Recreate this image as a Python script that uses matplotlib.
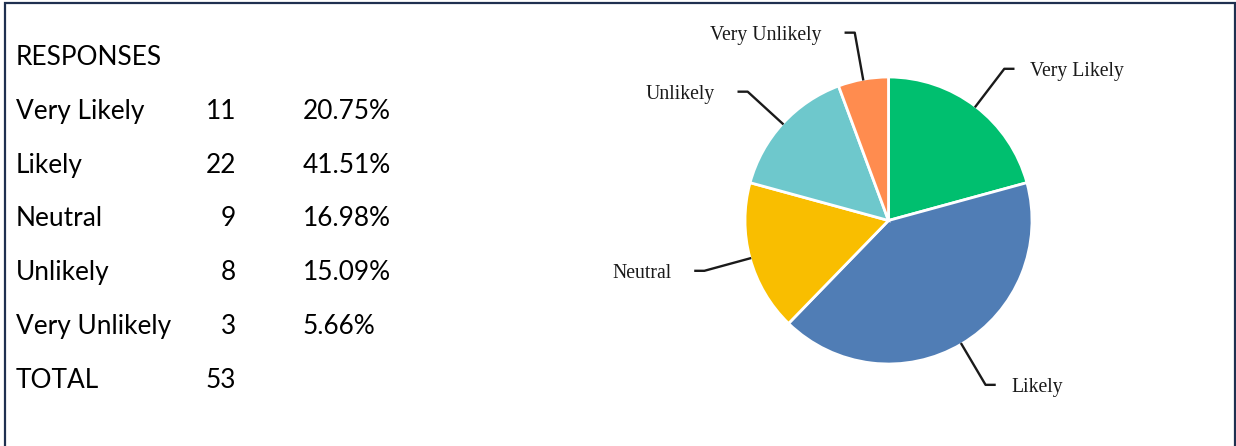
import matplotlib
matplotlib.use('Agg')
import matplotlib.pyplot as plt
import numpy as np

# survey responses
categories = ["Very Likely", "Likely", "Neutral", "Unlikely", "Very Unlikely"]
counts = [11, 22, 9, 8, 3]
percents = ["20.75%", "41.51%", "16.98%", "15.09%", "5.66%"]
total = 53
colors = ['#00BF6F', '#507DB5', '#F9BE00', '#6EC8CC', '#FF8C4F']

W, H = 1236, 446
fig = plt.figure(figsize=(W / 100, H / 100), dpi=100)

# overlay axes in pixel coordinates for the table and the frame
bg = fig.add_axes([0, 0, 1, 1])
bg.set_xlim(0, W)
bg.set_ylim(H, 0)
bg.axis('off')

border = '#1F3050'
bg.plot([4.5, 4.5, 1234.5, 1234.5], [H + 5, 2.5, 2.5, H + 5], color=border, lw=1.6,
        solid_joinstyle='miter', clip_on=False)

table_font = dict(family='Lato', fontsize=18.9, color='black', va='baseline')
row_y0, row_step = 65, 53.8
bg.text(16, row_y0, "RESPONSES", **table_font)
for i, (cat, n, pct) in enumerate(zip(categories, counts, percents)):
    y = row_y0 + (i + 1) * row_step
    bg.text(16, y, cat, ha='left', **table_font)
    bg.text(236, y, str(n), ha='right', **table_font)
    bg.text(303, y, pct, ha='left', **table_font)
y = row_y0 + (len(categories) + 1) * row_step
bg.text(16, y, "TOTAL", ha='left', **table_font)
bg.text(236, y, str(total), ha='right', **table_font)

# pie chart, axes sized so one data unit equals the radius
cx, cy, r = 888.5, 220.5, 143.5
ax = fig.add_axes([(cx - r) / W, 1 - (cy + r) / H, 2 * r / W, 2 * r / H])
wedges, _ = ax.pie(counts, colors=colors, startangle=90, counterclock=False,
                   wedgeprops=dict(edgecolor='white', linewidth=2))
ax.set_xlim(-1, 1)
ax.set_ylim(-1, 1)
ax.set_aspect('auto')
ax.axis('off')

hseg = 9 / r
for w, cat in zip(wedges, categories):
    ang = np.deg2rad((w.theta1 + w.theta2) / 2)
    x0, y0 = np.cos(ang), np.sin(ang)
    x1, y1 = 1.33 * x0, 1.33 * y0
    side = 1 if x0 > 0 else -1
    x2 = x1 + side * hseg
    ax.plot([x0, x1, x2], [y0, y1, y1], color='#1a1a1a', lw=1.7, clip_on=False)
    gap = 17 / r if side > 0 else 24 / r
    ax.text(x2 + side * gap, y1 - 3 / r, cat, ha='left' if side > 0 else 'right', va='center',
            family='Liberation Serif', fontsize=14.2, color='#1a1a1a', clip_on=False)

plt.savefig('out.png', dpi=100)
